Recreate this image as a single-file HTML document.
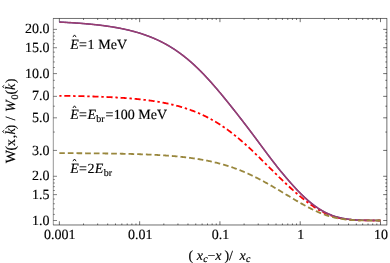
<!DOCTYPE html>
<html><head><meta charset="utf-8"><title>plot</title>
<style>
html,body{margin:0;padding:0;background:#fff;}
body{width:390px;height:263px;overflow:hidden;}
svg{display:block;will-change:transform;}
text{stroke:#000;stroke-width:0.15px;text-rendering:geometricPrecision;font-family:"Liberation Serif",serif;fill:#000;}
</style></head><body>
<svg width="390" height="263" viewBox="0 0 390 263">
<rect width="390" height="263" fill="#fff"/>
<path d="M53.09,18.46 H386.87 M386.87,18.18 V225.25 M386.87,224.97 H53.09" fill="none" stroke="#000" stroke-width="0.57"/>
<path d="M53.3,18.46 V224.97" fill="none" stroke="#000" stroke-width="0.42"/>
<path d="M59.37,224.97 v-3.7 M59.37,18.46 v3.7 M83.54,224.97 v-1.5 M83.54,18.46 v1.5 M97.67,224.97 v-1.5 M97.67,18.46 v1.5 M107.70,224.97 v-1.5 M107.70,18.46 v1.5 M115.48,224.97 v-1.5 M115.48,18.46 v1.5 M121.84,224.97 v-1.5 M121.84,18.46 v1.5 M127.21,224.97 v-1.5 M127.21,18.46 v1.5 M131.87,224.97 v-1.5 M131.87,18.46 v1.5 M135.98,224.97 v-1.5 M135.98,18.46 v1.5 M139.65,224.97 v-3.7 M139.65,18.46 v3.7 M163.82,224.97 v-1.5 M163.82,18.46 v1.5 M177.95,224.97 v-1.5 M177.95,18.46 v1.5 M187.98,224.97 v-1.5 M187.98,18.46 v1.5 M195.76,224.97 v-1.5 M195.76,18.46 v1.5 M202.12,224.97 v-1.5 M202.12,18.46 v1.5 M207.49,224.97 v-1.5 M207.49,18.46 v1.5 M212.15,224.97 v-1.5 M212.15,18.46 v1.5 M216.26,224.97 v-1.5 M216.26,18.46 v1.5 M219.93,224.97 v-3.7 M219.93,18.46 v3.7 M244.10,224.97 v-1.5 M244.10,18.46 v1.5 M258.23,224.97 v-1.5 M258.23,18.46 v1.5 M268.26,224.97 v-1.5 M268.26,18.46 v1.5 M276.04,224.97 v-1.5 M276.04,18.46 v1.5 M282.40,224.97 v-1.5 M282.40,18.46 v1.5 M287.77,224.97 v-1.5 M287.77,18.46 v1.5 M292.43,224.97 v-1.5 M292.43,18.46 v1.5 M296.54,224.97 v-1.5 M296.54,18.46 v1.5 M300.21,224.97 v-3.7 M300.21,18.46 v3.7 M324.38,224.97 v-1.5 M324.38,18.46 v1.5 M338.51,224.97 v-1.5 M338.51,18.46 v1.5 M348.54,224.97 v-1.5 M348.54,18.46 v1.5 M356.32,224.97 v-1.5 M356.32,18.46 v1.5 M362.68,224.97 v-1.5 M362.68,18.46 v1.5 M368.05,224.97 v-1.5 M368.05,18.46 v1.5 M372.71,224.97 v-1.5 M372.71,18.46 v1.5 M376.82,224.97 v-1.5 M376.82,18.46 v1.5 M380.49,224.97 v-3.7 M380.49,18.46 v3.7 M386.87,220.50 h-3.7 M386.87,194.63 h-3.7 M386.87,176.28 h-3.7 M386.87,150.41 h-3.7 M386.87,117.82 h-3.7 M386.87,96.35 h-3.7 M386.87,73.60 h-3.7 M386.87,47.73 h-3.7 M386.87,29.37 h-3.7 M386.87,214.42 h-1.5 M386.87,208.87 h-1.5 M386.87,203.76 h-1.5 M386.87,199.03 h-1.5 M386.87,190.51 h-1.5 M386.87,186.65 h-1.5 M386.87,183.00 h-1.5 M386.87,179.55 h-1.5 M386.87,132.05 h-1.5 M386.87,106.19 h-1.5 M386.87,87.83 h-1.5 M386.87,80.32 h-1.5 M386.87,67.51 h-1.5 M386.87,61.96 h-1.5 M386.87,56.86 h-1.5 M386.87,52.13 h-1.5 M386.87,43.61 h-1.5 M386.87,39.74 h-1.5 M386.87,36.09 h-1.5 M386.87,32.64 h-1.5" fill="none" stroke="#000" stroke-width="0.57"/>
<path d="M53.3,220.50 h3.7 M53.3,194.63 h3.7 M53.3,176.28 h3.7 M53.3,150.41 h3.7 M53.3,117.82 h3.7 M53.3,96.35 h3.7 M53.3,73.60 h3.7 M53.3,47.73 h3.7 M53.3,29.37 h3.7 M53.3,214.42 h1.5 M53.3,208.87 h1.5 M53.3,203.76 h1.5 M53.3,199.03 h1.5 M53.3,190.51 h1.5 M53.3,186.65 h1.5 M53.3,183.00 h1.5 M53.3,179.55 h1.5 M53.3,132.05 h1.5 M53.3,106.19 h1.5 M53.3,87.83 h1.5 M53.3,80.32 h1.5 M53.3,67.51 h1.5 M53.3,61.96 h1.5 M53.3,56.86 h1.5 M53.3,52.13 h1.5 M53.3,43.61 h1.5 M53.3,39.74 h1.5 M53.3,36.09 h1.5 M53.3,32.64 h1.5" fill="none" stroke="#000" stroke-width="0.5"/>
<path d="M59.37,95.79 L60.17,95.80 L60.98,95.81 L61.78,95.82 L62.59,95.83 L63.39,95.84 L64.20,95.85 L65.00,95.87 L65.81,95.88 L66.61,95.89 L67.42,95.90 L68.22,95.92 L69.03,95.93 L69.83,95.94 L70.64,95.96 L71.44,95.97 L72.25,95.98 L73.05,96.00 L73.86,96.01 L74.66,96.03 L75.47,96.04 L76.27,96.06 L77.08,96.08 L77.88,96.09 L78.69,96.11 L79.49,96.13 L80.30,96.15 L81.10,96.16 L81.90,96.18 L82.71,96.20 L83.51,96.22 L84.32,96.24 L85.12,96.26 L85.93,96.28 L86.73,96.30 L87.54,96.32 L88.34,96.35 L89.15,96.37 L89.95,96.39 L90.76,96.41 L91.56,96.44 L92.37,96.46 L93.17,96.49 L93.98,96.51 L94.78,96.54 L95.59,96.57 L96.39,96.59 L97.20,96.62 L98.00,96.65 L98.81,96.68 L99.61,96.71 L100.42,96.74 L101.22,96.77 L102.03,96.80 L102.83,96.83 L103.63,96.86 L104.44,96.90 L105.24,96.93 L106.05,96.97 L106.85,97.00 L107.66,97.04 L108.46,97.08 L109.27,97.11 L110.07,97.15 L110.88,97.19 L111.68,97.23 L112.49,97.27 L113.29,97.32 L114.10,97.36 L114.90,97.40 L115.71,97.45 L116.51,97.50 L117.32,97.54 L118.12,97.59 L118.93,97.64 L119.73,97.69 L120.54,97.74 L121.34,97.79 L122.15,97.84 L122.95,97.90 L123.75,97.95 L124.56,98.01 L125.36,98.07 L126.17,98.13 L126.97,98.19 L127.78,98.25 L128.58,98.31 L129.39,98.38 L130.19,98.44 L131.00,98.51 L131.80,98.58 L132.61,98.65 L133.41,98.72 L134.22,98.79 L135.02,98.86 L135.83,98.94 L136.63,99.02 L137.44,99.10 L138.24,99.18 L139.05,99.26 L139.85,99.34 L140.66,99.43 L141.46,99.52 L142.27,99.60 L143.07,99.70 L143.88,99.79 L144.68,99.88 L145.48,99.98 L146.29,100.08 L147.09,100.18 L147.90,100.28 L148.70,100.39 L149.51,100.49 L150.31,100.60 L151.12,100.72 L151.92,100.83 L152.73,100.95 L153.53,101.06 L154.34,101.19 L155.14,101.31 L155.95,101.44 L156.75,101.56 L157.56,101.69 L158.36,101.83 L159.17,101.96 L159.97,102.10 L160.78,102.25 L161.58,102.39 L162.39,102.54 L163.19,102.69 L164.00,102.84 L164.80,103.00 L165.61,103.16 L166.41,103.32 L167.21,103.49 L168.02,103.66 L168.82,103.83 L169.63,104.01 L170.43,104.19 L171.24,104.37 L172.04,104.56 L172.85,104.75 L173.65,104.94 L174.46,105.14 L175.26,105.34 L176.07,105.55 L176.87,105.76 L177.68,105.97 L178.48,106.19 L179.29,106.41 L180.09,106.64 L180.90,106.87 L181.70,107.10 L182.51,107.34 L183.31,107.59 L184.12,107.84 L184.92,108.09 L185.73,108.35 L186.53,108.61 L187.34,108.88 L188.14,109.15 L188.94,109.43 L189.75,109.71 L190.55,109.99 L191.36,110.29 L192.16,110.58 L192.97,110.89 L193.77,111.20 L194.58,111.51 L195.38,111.83 L196.19,112.15 L196.99,112.48 L197.80,112.82 L198.60,113.16 L199.41,113.51 L200.21,113.87 L201.02,114.22 L201.82,114.59 L202.63,114.96 L203.43,115.34 L204.24,115.73 L205.04,116.12 L205.85,116.51 L206.65,116.92 L207.46,117.33 L208.26,117.74 L209.07,118.17 L209.87,118.60 L210.67,119.03 L211.48,119.48 L212.28,119.92 L213.09,120.38 L213.89,120.84 L214.70,121.32 L215.50,121.79 L216.31,122.28 L217.11,122.77 L217.92,123.27 L218.72,123.77 L219.53,124.28 L220.33,124.80 L221.14,125.33 L221.94,125.86 L222.75,126.40 L223.55,126.95 L224.36,127.50 L225.16,128.06 L225.97,128.63 L226.77,129.21 L227.58,129.79 L228.38,130.38 L229.19,130.98 L229.99,131.58 L230.79,132.19 L231.60,132.81 L232.40,133.43 L233.21,134.06 L234.01,134.70 L234.82,135.34 L235.62,135.99 L236.43,136.65 L237.23,137.31 L238.04,137.98 L238.84,138.66 L239.65,139.34 L240.45,140.03 L241.26,140.72 L242.06,141.42 L242.87,142.12 L243.67,142.83 L244.48,143.55 L245.28,144.27 L246.09,145.00 L246.89,145.73 L247.70,146.46 L248.50,147.20 L249.31,147.95 L250.11,148.70 L250.92,149.45 L251.72,150.21 L252.52,150.97 L253.33,151.74 L254.13,152.51 L254.94,153.28 L255.74,154.05 L256.55,154.83 L257.35,155.61 L258.16,156.40 L258.96,157.18 L259.77,157.97 L260.57,158.76 L261.38,159.55 L262.18,160.35 L262.99,161.14 L263.79,161.94 L264.60,162.74 L265.40,163.53 L266.21,164.33 L267.01,165.13 L267.82,165.93 L268.62,166.73 L269.43,167.53 L270.23,168.33 L271.04,169.13 L271.84,169.93 L272.65,170.73 L273.45,171.52 L274.25,172.32 L275.06,173.11 L275.86,173.91 L276.67,174.70 L277.47,175.49 L278.28,176.28 L279.08,177.06 L279.89,177.84 L280.69,178.62 L281.50,179.40 L282.30,180.18 L283.11,180.95 L283.91,181.72 L284.72,182.49 L285.52,183.25 L286.33,184.01 L287.13,184.77 L287.94,185.52 L288.74,186.27 L289.55,187.01 L290.35,187.75 L291.16,188.49 L291.96,189.22 L292.77,189.95 L293.57,190.67 L294.38,191.39 L295.18,192.10 L295.98,192.81 L296.79,193.51 L297.59,194.21 L298.40,194.90 L299.20,195.58 L300.01,196.26 L300.81,196.93 L301.62,197.60 L302.42,198.26 L303.23,198.91 L304.03,199.55 L304.84,200.19 L305.64,200.82 L306.45,201.44 L307.25,202.05 L308.06,202.66 L308.86,203.25 L309.67,203.84 L310.47,204.42 L311.28,204.99 L312.08,205.55 L312.89,206.09 L313.69,206.63 L314.50,207.16 L315.30,207.68 L316.11,208.19 L316.91,208.69 L317.71,209.18 L318.52,209.66 L319.32,210.12 L320.13,210.58 L320.93,211.02 L321.74,211.45 L322.54,211.87 L323.35,212.28 L324.15,212.68 L324.96,213.07 L325.76,213.44 L326.57,213.80 L327.37,214.15 L328.18,214.49 L328.98,214.82 L329.79,215.13 L330.59,215.44 L331.40,215.73 L332.20,216.01 L333.01,216.28 L333.81,216.54 L334.62,216.78 L335.42,217.02 L336.23,217.25 L337.03,217.46 L337.83,217.67 L338.64,217.86 L339.44,218.05 L340.25,218.22 L341.05,218.39 L341.86,218.55 L342.66,218.69 L343.47,218.83 L344.27,218.96 L345.08,219.09 L345.88,219.20 L346.69,219.31 L347.49,219.41 L348.30,219.51 L349.10,219.60 L349.91,219.68 L350.71,219.75 L351.52,219.82 L352.32,219.89 L353.13,219.95 L353.93,220.00 L354.74,220.05 L355.54,220.10 L356.35,220.14 L357.15,220.18 L357.96,220.21 L358.76,220.25 L359.56,220.28 L360.37,220.30 L361.17,220.32 L361.98,220.35 L362.78,220.36 L363.59,220.38 L364.39,220.40 L365.20,220.41 L366.00,220.42 L366.81,220.43 L367.61,220.44 L368.42,220.45 L369.22,220.46 L370.03,220.46 L370.83,220.47 L371.64,220.47 L372.44,220.48 L373.25,220.48 L374.05,220.48 L374.86,220.49 L375.66,220.49 L376.47,220.49 L377.27,220.49 L378.08,220.49 L378.88,220.49 L379.69,220.50 L380.49,220.50" fill="none" stroke="#ff0000" stroke-width="1.8" stroke-dasharray="2.4 2.8 6.05 2.825" stroke-dashoffset="0.25" stroke-linejoin="round"/>
<path d="M59.37,22.08 L60.17,22.12 L60.98,22.16 L61.78,22.20 L62.59,22.23 L63.39,22.27 L64.20,22.32 L65.00,22.36 L65.81,22.40 L66.61,22.44 L67.42,22.49 L68.22,22.53 L69.03,22.58 L69.83,22.62 L70.64,22.67 L71.44,22.72 L72.25,22.77 L73.05,22.82 L73.86,22.87 L74.66,22.92 L75.47,22.98 L76.27,23.03 L77.08,23.09 L77.88,23.14 L78.69,23.20 L79.49,23.26 L80.30,23.32 L81.10,23.38 L81.90,23.44 L82.71,23.50 L83.51,23.57 L84.32,23.63 L85.12,23.70 L85.93,23.77 L86.73,23.84 L87.54,23.91 L88.34,23.98 L89.15,24.06 L89.95,24.13 L90.76,24.21 L91.56,24.29 L92.37,24.37 L93.17,24.45 L93.98,24.53 L94.78,24.62 L95.59,24.70 L96.39,24.79 L97.20,24.88 L98.00,24.97 L98.81,25.06 L99.61,25.16 L100.42,25.26 L101.22,25.36 L102.03,25.46 L102.83,25.56 L103.63,25.66 L104.44,25.77 L105.24,25.88 L106.05,25.99 L106.85,26.10 L107.66,26.22 L108.46,26.34 L109.27,26.46 L110.07,26.58 L110.88,26.70 L111.68,26.83 L112.49,26.96 L113.29,27.09 L114.10,27.23 L114.90,27.36 L115.71,27.50 L116.51,27.64 L117.32,27.79 L118.12,27.94 L118.93,28.09 L119.73,28.24 L120.54,28.40 L121.34,28.56 L122.15,28.72 L122.95,28.89 L123.75,29.06 L124.56,29.23 L125.36,29.41 L126.17,29.59 L126.97,29.77 L127.78,29.96 L128.58,30.15 L129.39,30.34 L130.19,30.54 L131.00,30.74 L131.80,30.94 L132.61,31.15 L133.41,31.37 L134.22,31.58 L135.02,31.80 L135.83,32.03 L136.63,32.26 L137.44,32.49 L138.24,32.73 L139.05,32.98 L139.85,33.22 L140.66,33.48 L141.46,33.73 L142.27,33.99 L143.07,34.26 L143.88,34.53 L144.68,34.81 L145.48,35.09 L146.29,35.38 L147.09,35.67 L147.90,35.97 L148.70,36.27 L149.51,36.58 L150.31,36.90 L151.12,37.22 L151.92,37.54 L152.73,37.88 L153.53,38.21 L154.34,38.56 L155.14,38.91 L155.95,39.27 L156.75,39.63 L157.56,40.00 L158.36,40.37 L159.17,40.76 L159.97,41.15 L160.78,41.54 L161.58,41.95 L162.39,42.36 L163.19,42.77 L164.00,43.20 L164.80,43.63 L165.61,44.07 L166.41,44.52 L167.21,44.97 L168.02,45.43 L168.82,45.90 L169.63,46.38 L170.43,46.86 L171.24,47.36 L172.04,47.86 L172.85,48.37 L173.65,48.88 L174.46,49.41 L175.26,49.94 L176.07,50.49 L176.87,51.04 L177.68,51.59 L178.48,52.16 L179.29,52.74 L180.09,53.32 L180.90,53.91 L181.70,54.52 L182.51,55.13 L183.31,55.75 L184.12,56.37 L184.92,57.01 L185.73,57.66 L186.53,58.31 L187.34,58.97 L188.14,59.65 L188.94,60.33 L189.75,61.02 L190.55,61.72 L191.36,62.42 L192.16,63.14 L192.97,63.86 L193.77,64.60 L194.58,65.34 L195.38,66.09 L196.19,66.85 L196.99,67.62 L197.80,68.40 L198.60,69.18 L199.41,69.97 L200.21,70.78 L201.02,71.58 L201.82,72.40 L202.63,73.23 L203.43,74.06 L204.24,74.90 L205.04,75.75 L205.85,76.61 L206.65,77.47 L207.46,78.34 L208.26,79.22 L209.07,80.10 L209.87,80.99 L210.67,81.89 L211.48,82.80 L212.28,83.71 L213.09,84.62 L213.89,85.55 L214.70,86.47 L215.50,87.41 L216.31,88.35 L217.11,89.29 L217.92,90.24 L218.72,91.19 L219.53,92.15 L220.33,93.11 L221.14,94.08 L221.94,95.05 L222.75,96.03 L223.55,97.01 L224.36,97.99 L225.16,98.97 L225.97,99.96 L226.77,100.96 L227.58,101.95 L228.38,102.95 L229.19,103.95 L229.99,104.96 L230.79,105.96 L231.60,106.97 L232.40,107.98 L233.21,109.00 L234.01,110.01 L234.82,111.03 L235.62,112.05 L236.43,113.08 L237.23,114.10 L238.04,115.13 L238.84,116.16 L239.65,117.19 L240.45,118.23 L241.26,119.27 L242.06,120.31 L242.87,121.35 L243.67,122.39 L244.48,123.44 L245.28,124.49 L246.09,125.54 L246.89,126.59 L247.70,127.65 L248.50,128.71 L249.31,129.77 L250.11,130.84 L250.92,131.90 L251.72,132.97 L252.52,134.04 L253.33,135.12 L254.13,136.19 L254.94,137.27 L255.74,138.35 L256.55,139.44 L257.35,140.52 L258.16,141.60 L258.96,142.69 L259.77,143.78 L260.57,144.86 L261.38,145.95 L262.18,147.04 L262.99,148.12 L263.79,149.21 L264.60,150.29 L265.40,151.37 L266.21,152.45 L267.01,153.53 L267.82,154.61 L268.62,155.68 L269.43,156.74 L270.23,157.81 L271.04,158.87 L271.84,159.92 L272.65,160.97 L273.45,162.01 L274.25,163.05 L275.06,164.08 L275.86,165.11 L276.67,166.13 L277.47,167.14 L278.28,168.15 L279.08,169.15 L279.89,170.14 L280.69,171.13 L281.50,172.12 L282.30,173.09 L283.11,174.06 L283.91,175.03 L284.72,175.99 L285.52,176.94 L286.33,177.89 L287.13,178.83 L287.94,179.76 L288.74,180.69 L289.55,181.61 L290.35,182.53 L291.16,183.43 L291.96,184.34 L292.77,185.23 L293.57,186.12 L294.38,187.00 L295.18,187.87 L295.98,188.73 L296.79,189.59 L297.59,190.43 L298.40,191.27 L299.20,192.10 L300.01,192.91 L300.81,193.72 L301.62,194.52 L302.42,195.30 L303.23,196.08 L304.03,196.84 L304.84,197.60 L305.64,198.34 L306.45,199.07 L307.25,199.79 L308.06,200.49 L308.86,201.18 L309.67,201.86 L310.47,202.53 L311.28,203.19 L312.08,203.83 L312.89,204.46 L313.69,205.07 L314.50,205.67 L315.30,206.26 L316.11,206.83 L316.91,207.39 L317.71,207.94 L318.52,208.47 L319.32,208.99 L320.13,209.49 L320.93,209.98 L321.74,210.46 L322.54,210.92 L323.35,211.37 L324.15,211.81 L324.96,212.23 L325.76,212.63 L326.57,213.03 L327.37,213.41 L328.18,213.78 L328.98,214.13 L329.79,214.47 L330.59,214.80 L331.40,215.11 L332.20,215.42 L333.01,215.71 L333.81,215.99 L334.62,216.25 L335.42,216.51 L336.23,216.75 L337.03,216.99 L337.83,217.21 L338.64,217.42 L339.44,217.62 L340.25,217.81 L341.05,217.99 L341.86,218.17 L342.66,218.33 L343.47,218.48 L344.27,218.63 L345.08,218.77 L345.88,218.90 L346.69,219.02 L347.49,219.13 L348.30,219.24 L349.10,219.34 L349.91,219.43 L350.71,219.52 L351.52,219.60 L352.32,219.68 L353.13,219.75 L353.93,219.82 L354.74,219.88 L355.54,219.93 L356.35,219.99 L357.15,220.03 L357.96,220.08 L358.76,220.12 L359.56,220.16 L360.37,220.19 L361.17,220.22 L361.98,220.25 L362.78,220.28 L363.59,220.30 L364.39,220.32 L365.20,220.34 L366.00,220.36 L366.81,220.38 L367.61,220.39 L368.42,220.40 L369.22,220.41 L370.03,220.43 L370.83,220.43 L371.64,220.44 L372.44,220.45 L373.25,220.46 L374.05,220.46 L374.86,220.47 L375.66,220.47 L376.47,220.48 L377.27,220.48 L378.08,220.48 L378.88,220.48 L379.69,220.49 L380.49,220.49" fill="none" stroke="#3d3d99" stroke-width="1.3" stroke-linejoin="round"/>
<path d="M59.37,22.08 L60.17,22.12 L60.98,22.16 L61.78,22.20 L62.59,22.23 L63.39,22.27 L64.20,22.32 L65.00,22.36 L65.81,22.40 L66.61,22.44 L67.42,22.49 L68.22,22.53 L69.03,22.58 L69.83,22.62 L70.64,22.67 L71.44,22.72 L72.25,22.77 L73.05,22.82 L73.86,22.87 L74.66,22.92 L75.47,22.98 L76.27,23.03 L77.08,23.09 L77.88,23.14 L78.69,23.20 L79.49,23.26 L80.30,23.32 L81.10,23.38 L81.90,23.44 L82.71,23.50 L83.51,23.57 L84.32,23.63 L85.12,23.70 L85.93,23.77 L86.73,23.84 L87.54,23.91 L88.34,23.98 L89.15,24.06 L89.95,24.13 L90.76,24.21 L91.56,24.29 L92.37,24.37 L93.17,24.45 L93.98,24.53 L94.78,24.62 L95.59,24.70 L96.39,24.79 L97.20,24.88 L98.00,24.97 L98.81,25.06 L99.61,25.16 L100.42,25.26 L101.22,25.36 L102.03,25.46 L102.83,25.56 L103.63,25.66 L104.44,25.77 L105.24,25.88 L106.05,25.99 L106.85,26.10 L107.66,26.22 L108.46,26.34 L109.27,26.46 L110.07,26.58 L110.88,26.70 L111.68,26.83 L112.49,26.96 L113.29,27.09 L114.10,27.23 L114.90,27.36 L115.71,27.50 L116.51,27.64 L117.32,27.79 L118.12,27.94 L118.93,28.09 L119.73,28.24 L120.54,28.40 L121.34,28.56 L122.15,28.72 L122.95,28.89 L123.75,29.06 L124.56,29.23 L125.36,29.41 L126.17,29.59 L126.97,29.77 L127.78,29.96 L128.58,30.15 L129.39,30.34 L130.19,30.54 L131.00,30.74 L131.80,30.94 L132.61,31.15 L133.41,31.37 L134.22,31.58 L135.02,31.80 L135.83,32.03 L136.63,32.26 L137.44,32.49 L138.24,32.73 L139.05,32.98 L139.85,33.22 L140.66,33.48 L141.46,33.73 L142.27,33.99 L143.07,34.26 L143.88,34.53 L144.68,34.81 L145.48,35.09 L146.29,35.38 L147.09,35.67 L147.90,35.97 L148.70,36.27 L149.51,36.58 L150.31,36.90 L151.12,37.22 L151.92,37.54 L152.73,37.88 L153.53,38.21 L154.34,38.56 L155.14,38.91 L155.95,39.27 L156.75,39.63 L157.56,40.00 L158.36,40.37 L159.17,40.76 L159.97,41.15 L160.78,41.54 L161.58,41.95 L162.39,42.36 L163.19,42.77 L164.00,43.20 L164.80,43.63 L165.61,44.07 L166.41,44.52 L167.21,44.97 L168.02,45.43 L168.82,45.90 L169.63,46.38 L170.43,46.86 L171.24,47.36 L172.04,47.86 L172.85,48.37 L173.65,48.88 L174.46,49.41 L175.26,49.94 L176.07,50.49 L176.87,51.04 L177.68,51.59 L178.48,52.16 L179.29,52.74 L180.09,53.32 L180.90,53.91 L181.70,54.52 L182.51,55.13 L183.31,55.75 L184.12,56.37 L184.92,57.01 L185.73,57.66 L186.53,58.31 L187.34,58.97 L188.14,59.65 L188.94,60.33 L189.75,61.02 L190.55,61.72 L191.36,62.42 L192.16,63.14 L192.97,63.86 L193.77,64.60 L194.58,65.34 L195.38,66.09 L196.19,66.85 L196.99,67.62 L197.80,68.40 L198.60,69.18 L199.41,69.97 L200.21,70.78 L201.02,71.58 L201.82,72.40 L202.63,73.23 L203.43,74.06 L204.24,74.90 L205.04,75.75 L205.85,76.61 L206.65,77.47 L207.46,78.34 L208.26,79.22 L209.07,80.10 L209.87,80.99 L210.67,81.89 L211.48,82.80 L212.28,83.71 L213.09,84.62 L213.89,85.55 L214.70,86.47 L215.50,87.41 L216.31,88.35 L217.11,89.29 L217.92,90.24 L218.72,91.19 L219.53,92.15 L220.33,93.11 L221.14,94.08 L221.94,95.05 L222.75,96.03 L223.55,97.01 L224.36,97.99 L225.16,98.97 L225.97,99.96 L226.77,100.96 L227.58,101.95 L228.38,102.95 L229.19,103.95 L229.99,104.96 L230.79,105.96 L231.60,106.97 L232.40,107.98 L233.21,109.00 L234.01,110.01 L234.82,111.03 L235.62,112.05 L236.43,113.08 L237.23,114.10 L238.04,115.13 L238.84,116.16 L239.65,117.19 L240.45,118.23 L241.26,119.27 L242.06,120.31 L242.87,121.35 L243.67,122.39 L244.48,123.44 L245.28,124.49 L246.09,125.54 L246.89,126.59 L247.70,127.65 L248.50,128.71 L249.31,129.77 L250.11,130.84 L250.92,131.90 L251.72,132.97 L252.52,134.04 L253.33,135.12 L254.13,136.19 L254.94,137.27 L255.74,138.35 L256.55,139.44 L257.35,140.52 L258.16,141.60 L258.96,142.69 L259.77,143.78 L260.57,144.86 L261.38,145.95 L262.18,147.04 L262.99,148.12 L263.79,149.21 L264.60,150.29 L265.40,151.37 L266.21,152.45 L267.01,153.53 L267.82,154.61 L268.62,155.68 L269.43,156.74 L270.23,157.81 L271.04,158.87 L271.84,159.92 L272.65,160.97 L273.45,162.01 L274.25,163.05 L275.06,164.08 L275.86,165.11 L276.67,166.13 L277.47,167.14 L278.28,168.15 L279.08,169.15 L279.89,170.14 L280.69,171.13 L281.50,172.12 L282.30,173.09 L283.11,174.06 L283.91,175.03 L284.72,175.99 L285.52,176.94 L286.33,177.89 L287.13,178.83 L287.94,179.76 L288.74,180.69 L289.55,181.61 L290.35,182.53 L291.16,183.43 L291.96,184.34 L292.77,185.23 L293.57,186.12 L294.38,187.00 L295.18,187.87 L295.98,188.73 L296.79,189.59 L297.59,190.43 L298.40,191.27 L299.20,192.10 L300.01,192.91 L300.81,193.72 L301.62,194.52 L302.42,195.30 L303.23,196.08 L304.03,196.84 L304.84,197.60 L305.64,198.34 L306.45,199.07 L307.25,199.79 L308.06,200.49 L308.86,201.18 L309.67,201.86 L310.47,202.53 L311.28,203.19 L312.08,203.83 L312.89,204.46 L313.69,205.07 L314.50,205.67 L315.30,206.26 L316.11,206.83 L316.91,207.39 L317.71,207.94 L318.52,208.47 L319.32,208.99 L320.13,209.49 L320.93,209.98 L321.74,210.46 L322.54,210.92 L323.35,211.37 L324.15,211.81 L324.96,212.23 L325.76,212.63 L326.57,213.03 L327.37,213.41 L328.18,213.78 L328.98,214.13 L329.79,214.47 L330.59,214.80 L331.40,215.11 L332.20,215.42 L333.01,215.71 L333.81,215.99 L334.62,216.25 L335.42,216.51 L336.23,216.75 L337.03,216.99 L337.83,217.21 L338.64,217.42 L339.44,217.62 L340.25,217.81 L341.05,217.99 L341.86,218.17 L342.66,218.33 L343.47,218.48 L344.27,218.63 L345.08,218.77 L345.88,218.90 L346.69,219.02 L347.49,219.13 L348.30,219.24 L349.10,219.34 L349.91,219.43 L350.71,219.52 L351.52,219.60 L352.32,219.68 L353.13,219.75 L353.93,219.82 L354.74,219.88 L355.54,219.93 L356.35,219.99 L357.15,220.03 L357.96,220.08 L358.76,220.12 L359.56,220.16 L360.37,220.19 L361.17,220.22 L361.98,220.25 L362.78,220.28 L363.59,220.30 L364.39,220.32 L365.20,220.34 L366.00,220.36 L366.81,220.38 L367.61,220.39 L368.42,220.40 L369.22,220.41 L370.03,220.43 L370.83,220.43 L371.64,220.44 L372.44,220.45 L373.25,220.46 L374.05,220.46 L374.86,220.47 L375.66,220.47 L376.47,220.48 L377.27,220.48 L378.08,220.48 L378.88,220.48 L379.69,220.49 L380.49,220.49" fill="none" stroke="#993d71" stroke-width="1.6" stroke-linejoin="round"/>
<path d="M59.37,153.14 L60.17,153.14 L60.98,153.14 L61.78,153.15 L62.59,153.15 L63.39,153.15 L64.20,153.16 L65.00,153.16 L65.81,153.16 L66.61,153.17 L67.42,153.17 L68.22,153.17 L69.03,153.18 L69.83,153.18 L70.64,153.19 L71.44,153.19 L72.25,153.19 L73.05,153.20 L73.86,153.20 L74.66,153.21 L75.47,153.21 L76.27,153.22 L77.08,153.22 L77.88,153.23 L78.69,153.23 L79.49,153.24 L80.30,153.24 L81.10,153.25 L81.90,153.25 L82.71,153.26 L83.51,153.26 L84.32,153.27 L85.12,153.27 L85.93,153.28 L86.73,153.29 L87.54,153.29 L88.34,153.30 L89.15,153.31 L89.95,153.31 L90.76,153.32 L91.56,153.33 L92.37,153.33 L93.17,153.34 L93.98,153.35 L94.78,153.36 L95.59,153.36 L96.39,153.37 L97.20,153.38 L98.00,153.39 L98.81,153.40 L99.61,153.41 L100.42,153.42 L101.22,153.43 L102.03,153.43 L102.83,153.44 L103.63,153.45 L104.44,153.46 L105.24,153.48 L106.05,153.49 L106.85,153.50 L107.66,153.51 L108.46,153.52 L109.27,153.53 L110.07,153.54 L110.88,153.55 L111.68,153.57 L112.49,153.58 L113.29,153.59 L114.10,153.61 L114.90,153.62 L115.71,153.63 L116.51,153.65 L117.32,153.66 L118.12,153.68 L118.93,153.69 L119.73,153.71 L120.54,153.72 L121.34,153.74 L122.15,153.76 L122.95,153.77 L123.75,153.79 L124.56,153.81 L125.36,153.83 L126.17,153.85 L126.97,153.86 L127.78,153.88 L128.58,153.90 L129.39,153.92 L130.19,153.95 L131.00,153.97 L131.80,153.99 L132.61,154.01 L133.41,154.03 L134.22,154.06 L135.02,154.08 L135.83,154.10 L136.63,154.13 L137.44,154.15 L138.24,154.18 L139.05,154.21 L139.85,154.23 L140.66,154.26 L141.46,154.29 L142.27,154.32 L143.07,154.35 L143.88,154.38 L144.68,154.41 L145.48,154.44 L146.29,154.47 L147.09,154.51 L147.90,154.54 L148.70,154.58 L149.51,154.61 L150.31,154.65 L151.12,154.69 L151.92,154.72 L152.73,154.76 L153.53,154.80 L154.34,154.84 L155.14,154.88 L155.95,154.93 L156.75,154.97 L157.56,155.01 L158.36,155.06 L159.17,155.10 L159.97,155.15 L160.78,155.20 L161.58,155.25 L162.39,155.30 L163.19,155.35 L164.00,155.40 L164.80,155.46 L165.61,155.51 L166.41,155.57 L167.21,155.62 L168.02,155.68 L168.82,155.74 L169.63,155.80 L170.43,155.87 L171.24,155.93 L172.04,155.99 L172.85,156.06 L173.65,156.13 L174.46,156.20 L175.26,156.27 L176.07,156.34 L176.87,156.42 L177.68,156.49 L178.48,156.57 L179.29,156.65 L180.09,156.73 L180.90,156.81 L181.70,156.90 L182.51,156.98 L183.31,157.07 L184.12,157.16 L184.92,157.25 L185.73,157.34 L186.53,157.44 L187.34,157.54 L188.14,157.64 L188.94,157.74 L189.75,157.84 L190.55,157.95 L191.36,158.05 L192.16,158.16 L192.97,158.28 L193.77,158.39 L194.58,158.51 L195.38,158.63 L196.19,158.75 L196.99,158.87 L197.80,159.00 L198.60,159.13 L199.41,159.26 L200.21,159.40 L201.02,159.53 L201.82,159.67 L202.63,159.82 L203.43,159.96 L204.24,160.11 L205.04,160.26 L205.85,160.42 L206.65,160.57 L207.46,160.73 L208.26,160.90 L209.07,161.06 L209.87,161.23 L210.67,161.41 L211.48,161.58 L212.28,161.76 L213.09,161.95 L213.89,162.13 L214.70,162.32 L215.50,162.52 L216.31,162.71 L217.11,162.91 L217.92,163.12 L218.72,163.33 L219.53,163.54 L220.33,163.75 L221.14,163.97 L221.94,164.19 L222.75,164.42 L223.55,164.65 L224.36,164.89 L225.16,165.12 L225.97,165.37 L226.77,165.61 L227.58,165.86 L228.38,166.12 L229.19,166.38 L229.99,166.64 L230.79,166.91 L231.60,167.18 L232.40,167.46 L233.21,167.74 L234.01,168.02 L234.82,168.31 L235.62,168.60 L236.43,168.90 L237.23,169.20 L238.04,169.51 L238.84,169.82 L239.65,170.13 L240.45,170.45 L241.26,170.78 L242.06,171.11 L242.87,171.44 L243.67,171.78 L244.48,172.12 L245.28,172.46 L246.09,172.81 L246.89,173.17 L247.70,173.53 L248.50,173.89 L249.31,174.26 L250.11,174.63 L250.92,175.00 L251.72,175.38 L252.52,175.77 L253.33,176.15 L254.13,176.55 L254.94,176.94 L255.74,177.34 L256.55,177.75 L257.35,178.15 L258.16,178.57 L258.96,178.98 L259.77,179.40 L260.57,179.82 L261.38,180.25 L262.18,180.68 L262.99,181.11 L263.79,181.55 L264.60,181.99 L265.40,182.43 L266.21,182.87 L267.01,183.32 L267.82,183.77 L268.62,184.22 L269.43,184.68 L270.23,185.14 L271.04,185.60 L271.84,186.06 L272.65,186.53 L273.45,186.99 L274.25,187.46 L275.06,187.94 L275.86,188.41 L276.67,188.88 L277.47,189.36 L278.28,189.84 L279.08,190.31 L279.89,190.79 L280.69,191.27 L281.50,191.75 L282.30,192.24 L283.11,192.72 L283.91,193.20 L284.72,193.69 L285.52,194.17 L286.33,194.65 L287.13,195.14 L287.94,195.62 L288.74,196.10 L289.55,196.58 L290.35,197.07 L291.16,197.55 L291.96,198.03 L292.77,198.51 L293.57,198.98 L294.38,199.46 L295.18,199.93 L295.98,200.41 L296.79,200.88 L297.59,201.35 L298.40,201.81 L299.20,202.28 L300.01,202.74 L300.81,203.20 L301.62,203.65 L302.42,204.11 L303.23,204.56 L304.03,205.00 L304.84,205.45 L305.64,205.88 L306.45,206.32 L307.25,206.75 L308.06,207.18 L308.86,207.60 L309.67,208.01 L310.47,208.42 L311.28,208.83 L312.08,209.23 L312.89,209.63 L313.69,210.02 L314.50,210.40 L315.30,210.78 L316.11,211.15 L316.91,211.51 L317.71,211.87 L318.52,212.22 L319.32,212.56 L320.13,212.90 L320.93,213.23 L321.74,213.55 L322.54,213.86 L323.35,214.17 L324.15,214.47 L324.96,214.76 L325.76,215.04 L326.57,215.31 L327.37,215.58 L328.18,215.84 L328.98,216.09 L329.79,216.33 L330.59,216.56 L331.40,216.78 L332.20,217.00 L333.01,217.21 L333.81,217.41 L334.62,217.60 L335.42,217.78 L336.23,217.96 L337.03,218.13 L337.83,218.29 L338.64,218.44 L339.44,218.58 L340.25,218.72 L341.05,218.85 L341.86,218.98 L342.66,219.09 L343.47,219.20 L344.27,219.31 L345.08,219.40 L345.88,219.50 L346.69,219.58 L347.49,219.66 L348.30,219.73 L349.10,219.80 L349.91,219.87 L350.71,219.93 L351.52,219.98 L352.32,220.03 L353.13,220.08 L353.93,220.12 L354.74,220.16 L355.54,220.20 L356.35,220.23 L357.15,220.26 L357.96,220.29 L358.76,220.31 L359.56,220.34 L360.37,220.36 L361.17,220.37 L361.98,220.39 L362.78,220.40 L363.59,220.42 L364.39,220.43 L365.20,220.44 L366.00,220.45 L366.81,220.45 L367.61,220.46 L368.42,220.47 L369.22,220.47 L370.03,220.48 L370.83,220.48 L371.64,220.48 L372.44,220.49 L373.25,220.49 L374.05,220.49 L374.86,220.49 L375.66,220.49 L376.47,220.49 L377.27,220.50 L378.08,220.50 L378.88,220.50 L379.69,220.50 L380.49,220.50" fill="none" stroke="#99873d" stroke-width="1.8" stroke-dasharray="5.7 2.975" stroke-dashoffset="0.25" stroke-linejoin="round"/>
<text x="49.45" y="224.60" text-anchor="end" font-size="14.0">1.0</text>
<text x="49.45" y="198.73" text-anchor="end" font-size="14.0">1.5</text>
<text x="49.45" y="180.38" text-anchor="end" font-size="14.0">2.0</text>
<text x="49.45" y="154.51" text-anchor="end" font-size="14.0">3.0</text>
<text x="49.45" y="121.92" text-anchor="end" font-size="14.0">5.0</text>
<text x="49.45" y="100.45" text-anchor="end" font-size="14.0">7.0</text>
<text x="49.45" y="77.70" text-anchor="end" font-size="14.0">10.0</text>
<text x="49.45" y="51.83" text-anchor="end" font-size="14.0">15.0</text>
<text x="49.45" y="33.47" text-anchor="end" font-size="14.0">20.0</text>
<text x="59.87" y="239.07" text-anchor="middle" font-size="14.0">0.001</text>
<text x="140.15" y="239.07" text-anchor="middle" font-size="14.0">0.01</text>
<text x="220.43" y="239.07" text-anchor="middle" font-size="14.0">0.1</text>
<text x="300.71" y="239.07" text-anchor="middle" font-size="14.0">1</text>
<text x="380.99" y="239.07" text-anchor="middle" font-size="14.0">10</text>
<path d="M72.90,37.10 L74.50,34.90 L76.10,37.10" fill="none" stroke="#000" stroke-width="0.9" stroke-linejoin="miter"/><text x="70.2" y="48.5" font-size="14.0"><tspan font-style="italic">E</tspan><tspan dx="0.35">=</tspan><tspan dx="0.5">1</tspan><tspan dx="0.25"> MeV</tspan></text>
<path d="M72.90,108.00 L74.50,105.80 L76.10,108.00" fill="none" stroke="#000" stroke-width="0.9" stroke-linejoin="miter"/><text x="70.2" y="119.4" font-size="14.0"><tspan font-style="italic">E</tspan><tspan dx="0.35">=</tspan><tspan font-style="italic" dx="0.5">E</tspan><tspan font-size="10" dy="3.0" dx="0.25">br</tspan><tspan dy="-3.0" dx="0.7">=</tspan><tspan dx="0.45">100</tspan> MeV</text>
<path d="M72.90,161.20 L74.50,159.00 L76.10,161.20" fill="none" stroke="#000" stroke-width="0.9" stroke-linejoin="miter"/><text x="70.2" y="172.6" font-size="14.0"><tspan font-style="italic">E</tspan><tspan dx="0.35">=</tspan><tspan dx="0.4">2</tspan><tspan font-style="italic" dx="0.4">E</tspan><tspan font-size="10" dy="3.0" dx="0.35">br</tspan></text>
<text x="188.60" y="259.80" font-size="14.0">(</text>
<text x="196.80" y="259.80" font-size="14.0" font-style="italic">x</text>
<text x="203.20" y="262.40" font-size="10" font-style="italic">c</text>
<text x="207.40" y="259.80" font-size="14.0">−</text>
<text x="215.20" y="259.80" font-size="14.0" font-style="italic">x</text>
<text x="224.40" y="259.80" font-size="14.0">)</text>
<text x="229.00" y="259.80" font-size="14.0">/</text>
<text x="239.50" y="259.80" font-size="14.0" font-style="italic">x</text>
<text x="246.00" y="262.40" font-size="10" font-style="italic">c</text>
<g transform="translate(15.4,163.2) rotate(-90)"><text x="0.00" y="0.00" font-size="14.0">W</text><text x="12.80" y="0.00" font-size="14.0">(</text><text x="17.30" y="0.00" font-size="14.0">x</text><text x="25.00" y="0.00" font-size="14.0">,</text><text x="28.60" y="0.00" font-size="14.0" font-style="italic">k</text><text x="33.60" y="0.00" font-size="14.0">)</text><text x="42.80" y="0.00" font-size="14.0">/</text><text x="51.20" y="0.00" font-size="14.0" font-style="italic">W</text><text x="63.70" y="2.60" font-size="10">0</text><text x="68.70" y="0.00" font-size="14.0">(</text><text x="73.20" y="0.00" font-size="14.0" font-style="italic">k</text><text x="80.00" y="0.00" font-size="14.0">)</text><path d="M30.35,-11.10 L31.70,-12.90 L33.05,-11.10" fill="none" stroke="#000" stroke-width="0.8"/><path d="M75.25,-11.10 L76.60,-12.90 L77.95,-11.10" fill="none" stroke="#000" stroke-width="0.8"/></g>
</svg>
</body></html>
